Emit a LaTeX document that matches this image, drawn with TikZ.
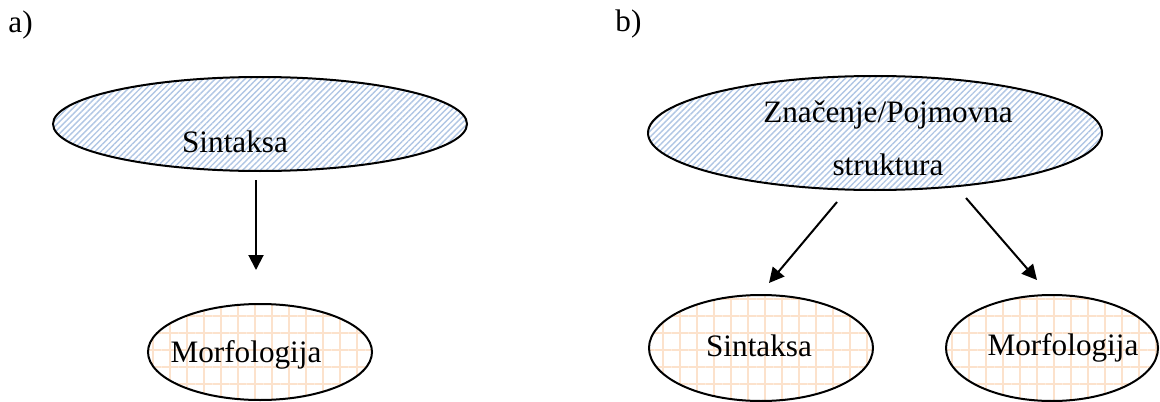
\documentclass[tikz,border=0pt]{standalone}
\usepackage{fontspec}
\setmainfont{Liberation Serif}
\usepackage{xcolor}
\usetikzlibrary{arrows.meta,patterns.meta,shapes.geometric}
\definecolor{hatchblue}{RGB}{176,198,228}
\definecolor{gridpeach}{RGB}{252,226,204}
\begin{document}
\begin{tikzpicture}[x=0.5pt,y=-0.5pt,>={Triangle[width=7.5pt,length=7.5pt]},
  bluell/.style={draw,line width=1pt,ellipse,inner sep=0pt,
    pattern={Lines[angle=45,distance=2.1pt,line width=0.7pt]},pattern color=hatchblue},
  peachll/.style={draw,line width=1pt,ellipse,inner sep=0pt,
    pattern={Hatch[angle=0,distance=8.5pt,line width=1.1pt]},pattern color=gridpeach},
  lbl/.style={anchor=base,inner sep=0pt,font=\fontsize{15.6}{18.7}\selectfont},
  arr/.style={->,line width=1pt}]
\useasboundingbox (0,0) rectangle (1160,401);
\node[lbl,anchor=base west](la) at (8,33){a)};
\node[lbl,anchor=base west](lb) at (615,32){b)};
\node[bluell,minimum width=207pt,minimum height=47pt](sa) at (260,124){};
\node[lbl](tsa) at (235,152){Sintaksa};
\node[peachll,minimum width=112pt,minimum height=48pt](ma) at (260,352){};
\node[lbl](tma) at (246,362){Morfologija};
\coordinate (a1) at (256,180);
\coordinate (a2) at (256,270);
\draw[arr](a1)--(a2);
\node[bluell,minimum width=227pt,minimum height=57pt](zb) at (875,133){};
\node[lbl](tzb1) at (888,122){Značenje/Pojmovna};
\node[lbl](tzb2) at (888,175){struktura};
\node[peachll,minimum width=112pt,minimum height=53pt](sb) at (761,348){};
\node[lbl](tsb) at (759,356){Sintaksa};
\node[peachll,minimum width=106pt,minimum height=53pt](mb) at (1052,348){};
\node[lbl](tmb) at (1063,355){Morfologija};
\coordinate (b1) at (837,202);
\coordinate (b2) at (769,283);
\coordinate (b3) at (966,198);
\coordinate (b4) at (1037,280);
\draw[arr](b1)--(b2);
\draw[arr](b3)--(b4);
\end{tikzpicture}
\end{document}
